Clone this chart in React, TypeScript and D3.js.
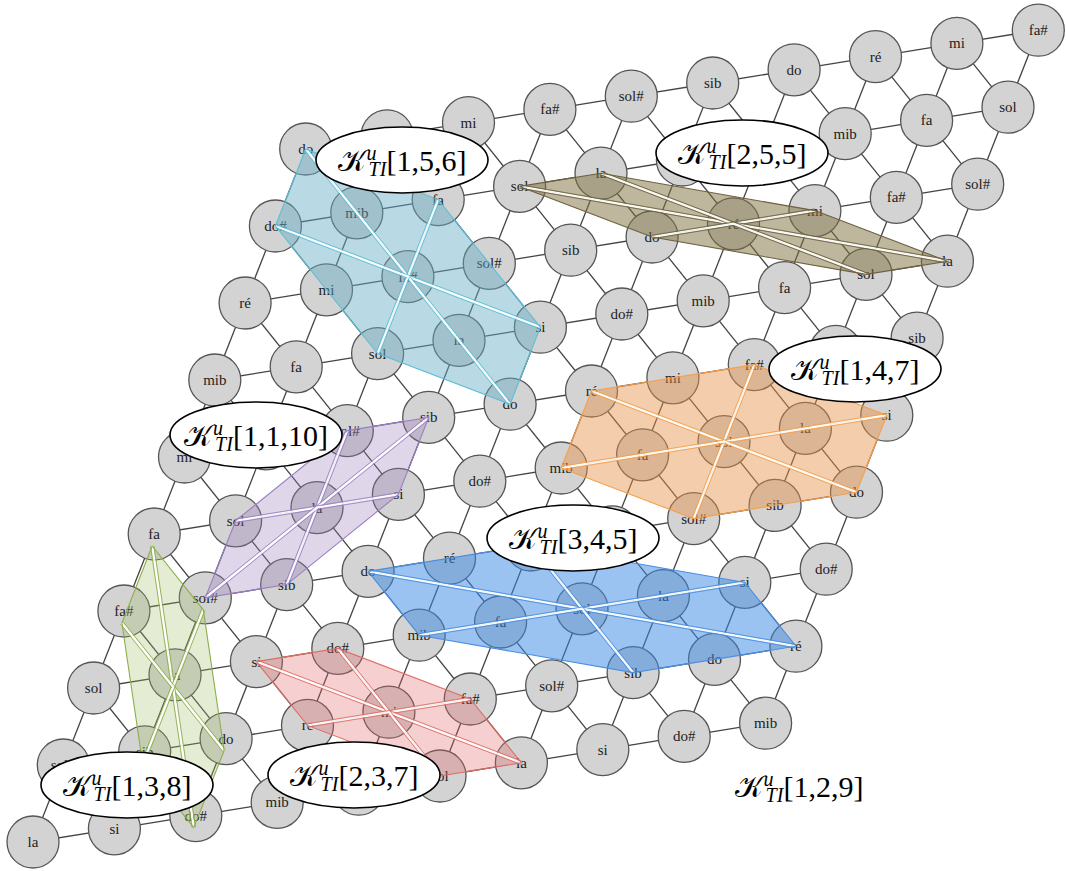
import React from "react";
import * as d3 from "d3";

// Note names of the lattice, row j = 0 (bottom) to j = 9 (top), column i = 0..9
const NOTE_ROWS: string[][] = [
  ["la", "si", "do#", "mib", "fa", "sol", "la", "si", "do#", "mib"],
  ["sol#", "sib", "do", "re", "mi", "fa#", "sol#", "sib", "do", "ré"],
  ["sol", "la", "si", "do#", "mib", "fa", "sol", "la", "si", "do#"],
  ["fa#", "sol#", "sib", "do", "ré", "mi", "fa#", "sol#", "sib", "do"],
  ["fa", "sol", "la", "si", "do#", "mib", "fa", "sol", "la", "si"],
  ["mi", "fa#", "sol#", "sib", "do", "ré", "mi", "fa#", "sol#", "sib"],
  ["mib", "fa", "sol", "la", "si", "do#", "mib", "fa", "sol", "la"],
  ["ré", "mi", "fa#", "sol#", "sib", "do", "ré", "mi", "fa#", "sol#"],
  ["do#", "mib", "fa", "sol", "la", "si", "do#", "mib", "fa", "sol"],
  ["do", "ré", "mi", "fa#", "sol#", "sib", "do", "ré", "mi", "fa#"],
];

// Overlay complexes (name, centre node, ring of 6 neighbour nodes)
const OVERLAY_NAMES: string[] = ["[1,5,6]", "[2,5,5]", "[1,4,7]", "[1,1,10]", "[3,4,5]", "[2,3,7]", "[1,3,8]"];
const OVERLAY_CENTERS: [number, number][] = [[2, 7], [6, 7], [7, 4], [2, 4], [6, 2], [4, 1], [1, 2]];
const OVERLAY_RINGS: [number, number][][] = [
  [[0, 9], [2, 8], [4, 6], [4, 5], [2, 6], [0, 8]],
  [[3, 8], [4, 8], [7, 7], [9, 6], [8, 6], [5, 7]],
  [[5, 5], [7, 5], [9, 4], [9, 3], [7, 3], [5, 4]],
  [[1, 4], [2, 5], [3, 5], [3, 4], [2, 3], [1, 3]],
  [[3, 3], [5, 3], [8, 2], [9, 1], [7, 1], [4, 2]],
  [[2, 2], [3, 2], [5, 1], [6, 0], [5, 0], [3, 1]],
  [[0, 4], [1, 3], [2, 1], [2, 0], [1, 1], [0, 3]],
];
const PLAIN_NAME = "[1,2,9]";

// ---------- layout / style (not data) ----------
const W = 1066;
const H = 871;
const N = 10;
const R = 26;
const ORIGIN = [33, 842];
const xI = d3.scaleLinear().domain([0, 9]).range([0, 9 * 81.4]);
const xJ = d3.scaleLinear().domain([0, 9]).range([0, 9 * 30.3]);
const yI = d3.scaleLinear().domain([0, 9]).range([0, -9 * 13.2]);
const yJ = d3.scaleLinear().domain([0, 9]).range([0, -9 * 77.0]);
const pos = (i: number, j: number): [number, number] => [ORIGIN[0] + xI(i) + xJ(j), ORIGIN[1] + yI(i) + yJ(j)];

const OVERLAY_STYLE = [
  { fill: "rgba(100,170,195,0.45)", stroke: "#5cbfd9", nudge: [0, 0] },
  { fill: "rgba(125,110,60,0.5)", stroke: "#6b6240", nudge: [0, 0] },
  { fill: "rgba(230,145,70,0.45)", stroke: "#f5a04a", nudge: [0, 0] },
  { fill: "rgba(150,120,185,0.3)", stroke: "#9a7fc3", nudge: [0, 0] },
  { fill: "rgba(55,135,230,0.5)", stroke: "#4a8fe0", nudge: [0, 0] },
  { fill: "rgba(225,100,100,0.3)", stroke: "#df6e66", nudge: [0, 0] },
  { fill: "rgba(160,185,100,0.28)", stroke: "#8caf4c", nudge: [-2, 12] },
];
const LABEL_POS: [number, number][] = [
  [402, 160], [742, 153], [855, 369], [256, 435], [573, 538], [354, 775], [127, 785],
];
const PLAIN_POS: [number, number] = [799, 786];

const SERIF = "'Liberation Serif', 'Times New Roman', serif";

function KText({ cx, cy, name }: { cx: number; cy: number; name: string }) {
  return (
    <text x={cx} y={cy + 11} textAnchor="middle" fontFamily={SERIF} fontSize={30} fill="#000">
      <tspan>𝒦</tspan>
      <tspan fontSize={20} fontStyle="italic" dx={1} dy={-11}>u</tspan>
      <tspan fontSize={20} fontStyle="italic" dx={-8} dy={16}>TI</tspan>
      <tspan dy={-5}>{name}</tspan>
    </text>
  );
}

export default function App() {
  const edges: [number, number, number, number][] = [];
  for (let j = 0; j < N; j++) {
    for (let i = 0; i < N; i++) {
      if (i + 1 < N) edges.push([i, j, i + 1, j]);
      if (j + 1 < N) edges.push([i, j, i, j + 1]);
      if (i >= 1 && j + 1 < N) edges.push([i, j, i - 1, j + 1]);
    }
  }
  const line = d3.line();

  return (
    <svg width={W} height={H} style={{ position: "absolute", left: 0, top: 0 }}>
      <rect width={W} height={H} fill="#fff" />
      <g>
        {edges.map(([i1, j1, i2, j2], k) => {
          const a = pos(i1, j1);
          const b = pos(i2, j2);
          return <line key={k} x1={a[0]} y1={a[1]} x2={b[0]} y2={b[1]} stroke="#444" strokeWidth={1.3} />;
        })}
      </g>
      <g>
        {NOTE_ROWS.map((row, j) =>
          row.map((name, i) => {
            const [x, y] = pos(i, j);
            return (
              <g key={`${i}-${j}`}>
                <circle cx={x} cy={y} r={R} fill="#d3d3d3" stroke="#555" strokeWidth={1.3} />
                <text x={x} y={y + 5} textAnchor="middle" fontFamily={SERIF} fontSize={15} fill="#222">
                  {name}
                </text>
              </g>
            );
          })
        )}
      </g>
      <g>
        {OVERLAY_NAMES.map((nm, k) => {
          const st = OVERLAY_STYLE[k];
          const sh = (p: [number, number]): [number, number] => [p[0] + st.nudge[0], p[1] + st.nudge[1]];
          const c = sh(pos(OVERLAY_CENTERS[k][0], OVERLAY_CENTERS[k][1]));
          const ring = OVERLAY_RINGS[k].map(([i, j]) => sh(pos(i, j)));
          const poly = line([...ring, ring[0]]) as string;
          return (
            <g key={nm}>
              <path d={poly} fill={st.fill} stroke="none" />
              {ring.map((v, m) => {
                const dx = v[0] - c[0];
                const dy = v[1] - c[1];
                const L = Math.hypot(dx, dy);
                const nx = -dy / L;
                const ny = dx / L;
                const o = 1.7;
                return (
                  <g key={m}>
                    <line x1={c[0]} y1={c[1]} x2={v[0]} y2={v[1]} stroke="#fff" strokeOpacity={0.9} strokeWidth={2.4} />
                    <line x1={c[0] + nx * o} y1={c[1] + ny * o} x2={v[0] + nx * o} y2={v[1] + ny * o} stroke={st.stroke} strokeWidth={0.9} />
                    <line x1={c[0] - nx * o} y1={c[1] - ny * o} x2={v[0] - nx * o} y2={v[1] - ny * o} stroke={st.stroke} strokeWidth={0.9} />
                  </g>
                );
              })}
              <path d={poly} fill="none" stroke={st.stroke} strokeWidth={1.1} strokeLinejoin="miter" />
            </g>
          );
        })}
      </g>
      <g>
        {OVERLAY_NAMES.map((nm, k) => {
          const [cx, cy] = LABEL_POS[k];
          return (
            <g key={nm}>
              <ellipse cx={cx} cy={cy} rx={86} ry={33} fill="#fff" stroke="#000" strokeWidth={1.6} />
              <KText cx={cx} cy={cy} name={nm} />
            </g>
          );
        })}
        <KText cx={PLAIN_POS[0]} cy={PLAIN_POS[1]} name={PLAIN_NAME} />
      </g>
    </svg>
  );
}
